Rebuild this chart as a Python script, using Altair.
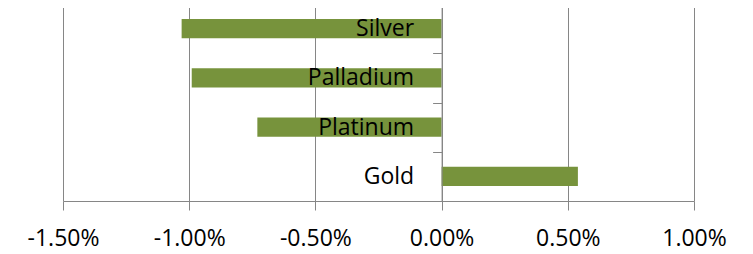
import altair as alt
import pandas as pd

metals = ["Silver", "Palladium", "Platinum", "Gold"]
changes = [-0.0103, -0.0099, -0.0073, 0.0054]
x_ticks = [-0.015, -0.01, -0.005, 0.0, 0.005, 0.01]
x_domain = [-0.015, 0.01]

df = pd.DataFrame({"metal": metals, "change": changes})

W, H = 631, 197
zero_px = W * (0 - x_domain[0]) / (x_domain[1] - x_domain[0])

grey = "#868686"

chart = (
    alt.Chart(df)
    .mark_bar(color="#77933C", height=alt.RelativeBandSize(band=0.39))
    .encode(
        x=alt.X(
            "change:Q",
            scale=alt.Scale(domain=x_domain, nice=False, zero=False),
            axis=alt.Axis(
                values=x_ticks,
                labelExpr="replace(format(datum.value, '.2%'), '\u2212', '-')",
                title=None,
                grid=True,
                gridColor=grey,
                gridWidth=1,
                tickSize=9,
                labelPadding=17,
                labelFlush=False,
                labelOverlap=False,
            ),
        ),
        y=alt.Y(
            "metal:N",
            sort=metals,
            scale=alt.Scale(paddingInner=0, paddingOuter=0),
            axis=alt.Axis(
                title=None,
                offset=-zero_px,
                tickBand="extent",
                tickSize=9,
                labelPadding=19,
                labelAlign="right",
                labelBaseline="middle",
                grid=False,
                zindex=1,
            ),
        ),
    )
    .properties(
        width=W,
        height=H,
        autosize=alt.AutoSizeParams(type="none"),
        padding={"left": 55, "top": -4, "right": 51, "bottom": 55},
    )
    .configure_view(stroke=None)
    .configure_axis(
        labelFont="Open Sans",
        labelFontSize=23,
        labelColor="black",
        domainColor=grey,
        tickColor=grey,
        domainWidth=1,
        tickWidth=1,
    )
)

chart.save("out.html", embed_options={"renderer": "svg", "actions": False})
